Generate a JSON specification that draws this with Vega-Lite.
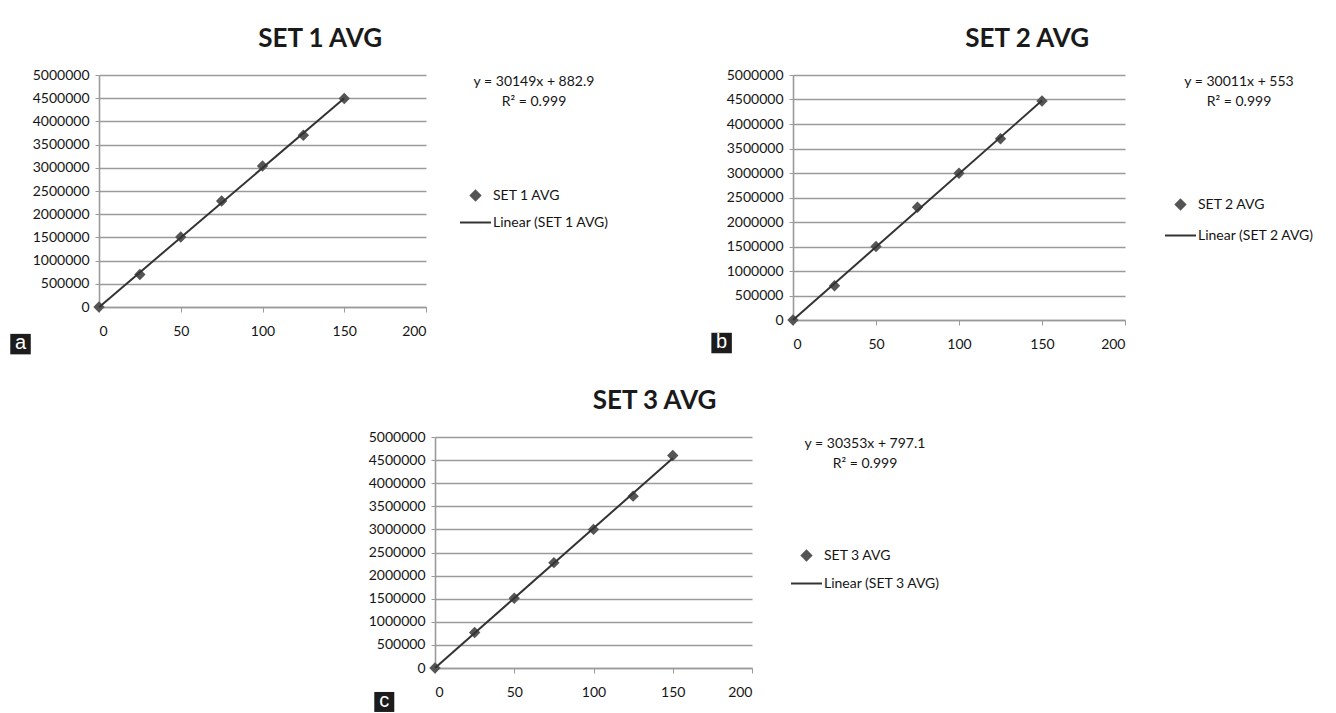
{
  "$schema": "https://vega.github.io/schema/vega-lite/v6.json",
  "background": "white",
  "padding": {"left": 10, "top": 26, "right": 0, "bottom": 0},
  "config": {
    "font": "Lato",
    "view": {"stroke": null},
    "title": {"fontSize": 26, "fontWeight": "bold", "color": "#1a1a1a", "frame": "bounds", "anchor": "middle", "offset": 16},
    "axis": {"labelFont": "Lato", "labelFontSize": 14, "labelColor": "#151515", "domainColor": "#9a9a9a", "tickColor": "#9a9a9a", "gridColor": "#9a9a9a", "gridWidth": 1.6, "domainWidth": 1.6, "title": null, "labelOverlap": false},
    "legend": {"labelFont": "Lato", "labelFontSize": 14, "labelColor": "#151515", "titleFont": "Lato", "titleFontSize": 14, "titleFontWeight": "normal", "titleColor": "#151515", "titleAlign": "center", "titleAnchor": "middle", "titleLineHeight": 20, "symbolSize": 784, "rowPadding": 1, "labelOffset": 1, "orient": "right"}
  },
  "resolve": {"scale": {"color": "independent"}, "legend": {"color": "independent"}},
  "spacing": 33,
  "vconcat": [
    {
      "resolve": {"scale": {"color": "independent"}, "legend": {"color": "independent"}},
      "spacing": 101,
      "hconcat": [
        {
          "title": {"text": "SET 1 AVG", "dx": 10},
          "width": 327,
          "height": 232,
          "data": {"values": [
            {"x": 0, "y": 0, "series": "SET 1 AVG", "trend": "Linear (SET 1 AVG)"},
            {"x": 25, "y": 700000, "series": "SET 1 AVG", "trend": "Linear (SET 1 AVG)"},
            {"x": 50, "y": 1510000, "series": "SET 1 AVG", "trend": "Linear (SET 1 AVG)"},
            {"x": 75, "y": 2285000, "series": "SET 1 AVG", "trend": "Linear (SET 1 AVG)"},
            {"x": 100, "y": 3040000, "series": "SET 1 AVG", "trend": "Linear (SET 1 AVG)"},
            {"x": 125, "y": 3700000, "series": "SET 1 AVG", "trend": "Linear (SET 1 AVG)"},
            {"x": 150, "y": 4495000, "series": "SET 1 AVG", "trend": "Linear (SET 1 AVG)"}
          ]},
          "layer": [
            {
              "mark": {"type": "point", "shape": "diamond", "filled": true, "size": 130, "opacity": 1},
              "encoding": {
                "x": {"field": "x", "type": "quantitative", "scale": {"domain": [0, 200], "nice": false}, "axis": {"values": [0, 50, 100, 150, 200], "format": "d", "grid": false, "tickSize": 5, "labelPadding": 12}},
                "y": {"field": "y", "type": "quantitative", "scale": {"domain": [0, 5000000], "nice": false}, "axis": {"values": [0, 500000, 1000000, 1500000, 2000000, 2500000, 3000000, 3500000, 4000000, 4500000, 5000000], "format": "d", "grid": true, "tickSize": 4, "labelPadding": 6}},
                "color": {"field": "series", "type": "nominal", "scale": {"domain": ["SET 1 AVG", "Linear (SET 1 AVG)"], "range": ["#555555", "#333333"]},
                "legend": {"title": ["y = 30149x + 882.9", "R² = 0.999"], "offset": 33, "titlePadding": 70,
                  "encode": {"symbols": {"update": {
                    "shape": {"signal": "datum.value === 'SET 1 AVG' ? 'diamond' : 'stroke'"},
                    "size": {"signal": "datum.value === 'SET 1 AVG' ? 90 : 961"},
                    "fill": {"signal": "datum.value === 'SET 1 AVG' ? '#555555' : 'transparent'"},
                    "stroke": {"signal": "datum.value === 'SET 1 AVG' ? 'transparent' : '#444444'"},
                    "strokeWidth": {"value": 2}}}}}}}
            },
            {
              "transform": [{"regression": "y", "on": "x", "groupby": ["trend"]}],
              "mark": {"type": "line", "strokeWidth": 2},
              "encoding": {
                "x": {"field": "x", "type": "quantitative", "scale": {"domain": [0, 200], "nice": false}, "axis": {"values": [0, 50, 100, 150, 200], "format": "d", "grid": false, "tickSize": 5, "labelPadding": 12}},
                "y": {"field": "y", "type": "quantitative", "scale": {"domain": [0, 5000000], "nice": false}, "axis": {"values": [0, 500000, 1000000, 1500000, 2000000, 2500000, 3000000, 3500000, 4000000, 4500000, 5000000], "format": "d", "grid": true, "tickSize": 4, "labelPadding": 6}},
                "color": {"field": "trend", "type": "nominal", "scale": {"domain": ["SET 1 AVG", "Linear (SET 1 AVG)"], "range": ["#555555", "#333333"]},
                "legend": {"title": ["y = 30149x + 882.9", "R² = 0.999"], "offset": 33, "titlePadding": 70,
                  "encode": {"symbols": {"update": {
                    "shape": {"signal": "datum.value === 'SET 1 AVG' ? 'diamond' : 'stroke'"},
                    "size": {"signal": "datum.value === 'SET 1 AVG' ? 90 : 961"},
                    "fill": {"signal": "datum.value === 'SET 1 AVG' ? '#555555' : 'transparent'"},
                    "stroke": {"signal": "datum.value === 'SET 1 AVG' ? 'transparent' : '#444444'"},
                    "strokeWidth": {"value": 2}}}}}}}
            },
            {
              "data": {"values": [{"lbl": "a"}]},
              "mark": {"type": "square", "size": 420, "color": "#1c1c1c", "opacity": 1},
              "encoding": {
                "x": {"datum": -48, "type": "quantitative", "scale": {"domain": [0, 200], "nice": false}, "axis": {"values": [0, 50, 100, 150, 200], "format": "d", "grid": false, "tickSize": 5, "labelPadding": 12}},
                "y": {"datum": -800000, "type": "quantitative", "scale": {"domain": [0, 5000000], "nice": false}, "axis": {"values": [0, 500000, 1000000, 1500000, 2000000, 2500000, 3000000, 3500000, 4000000, 4500000, 5000000], "format": "d", "grid": true, "tickSize": 4, "labelPadding": 6}}
              }
            },
            {
              "data": {"values": [{"lbl": "a"}]},
              "mark": {"type": "text", "color": "white", "font": "Liberation Sans", "fontSize": 20, "baseline": "middle", "align": "center", "dy": -1},
              "encoding": {
                "x": {"datum": -48, "type": "quantitative", "scale": {"domain": [0, 200], "nice": false}, "axis": {"values": [0, 50, 100, 150, 200], "format": "d", "grid": false, "tickSize": 5, "labelPadding": 12}},
                "y": {"datum": -800000, "type": "quantitative", "scale": {"domain": [0, 5000000], "nice": false}, "axis": {"values": [0, 500000, 1000000, 1500000, 2000000, 2500000, 3000000, 3500000, 4000000, 4500000, 5000000], "format": "d", "grid": true, "tickSize": 4, "labelPadding": 6}},
                "text": {"field": "lbl"}
              }
            }
          ]
        },
        {
          "title": {"text": "SET 2 AVG", "dx": 14},
          "width": 332,
          "height": 245,
          "data": {"values": [
            {"x": 0, "y": 0, "series": "SET 2 AVG", "trend": "Linear (SET 2 AVG)"},
            {"x": 25, "y": 700000, "series": "SET 2 AVG", "trend": "Linear (SET 2 AVG)"},
            {"x": 50, "y": 1500000, "series": "SET 2 AVG", "trend": "Linear (SET 2 AVG)"},
            {"x": 75, "y": 2300000, "series": "SET 2 AVG", "trend": "Linear (SET 2 AVG)"},
            {"x": 100, "y": 2995000, "series": "SET 2 AVG", "trend": "Linear (SET 2 AVG)"},
            {"x": 125, "y": 3700000, "series": "SET 2 AVG", "trend": "Linear (SET 2 AVG)"},
            {"x": 150, "y": 4470000, "series": "SET 2 AVG", "trend": "Linear (SET 2 AVG)"}
          ]},
          "layer": [
            {
              "mark": {"type": "point", "shape": "diamond", "filled": true, "size": 130, "opacity": 1},
              "encoding": {
                "x": {"field": "x", "type": "quantitative", "scale": {"domain": [0, 200], "nice": false}, "axis": {"values": [0, 50, 100, 150, 200], "format": "d", "grid": false, "tickSize": 5, "labelPadding": 12}},
                "y": {"field": "y", "type": "quantitative", "scale": {"domain": [0, 5000000], "nice": false}, "axis": {"values": [0, 500000, 1000000, 1500000, 2000000, 2500000, 3000000, 3500000, 4000000, 4500000, 5000000], "format": "d", "grid": true, "tickSize": 4, "labelPadding": 6}},
                "color": {"field": "series", "type": "nominal", "scale": {"domain": ["SET 2 AVG", "Linear (SET 2 AVG)"], "range": ["#555555", "#333333"]},
                "legend": {"title": ["y = 30011x + 553", "R² = 0.999"], "offset": 39, "titlePadding": 79, "rowPadding": 5,
                  "encode": {"symbols": {"update": {
                    "shape": {"signal": "datum.value === 'SET 2 AVG' ? 'diamond' : 'stroke'"},
                    "size": {"signal": "datum.value === 'SET 2 AVG' ? 90 : 961"},
                    "fill": {"signal": "datum.value === 'SET 2 AVG' ? '#555555' : 'transparent'"},
                    "stroke": {"signal": "datum.value === 'SET 2 AVG' ? 'transparent' : '#444444'"},
                    "strokeWidth": {"value": 2}}}}}}}
            },
            {
              "transform": [{"regression": "y", "on": "x", "groupby": ["trend"]}],
              "mark": {"type": "line", "strokeWidth": 2},
              "encoding": {
                "x": {"field": "x", "type": "quantitative", "scale": {"domain": [0, 200], "nice": false}, "axis": {"values": [0, 50, 100, 150, 200], "format": "d", "grid": false, "tickSize": 5, "labelPadding": 12}},
                "y": {"field": "y", "type": "quantitative", "scale": {"domain": [0, 5000000], "nice": false}, "axis": {"values": [0, 500000, 1000000, 1500000, 2000000, 2500000, 3000000, 3500000, 4000000, 4500000, 5000000], "format": "d", "grid": true, "tickSize": 4, "labelPadding": 6}},
                "color": {"field": "trend", "type": "nominal", "scale": {"domain": ["SET 2 AVG", "Linear (SET 2 AVG)"], "range": ["#555555", "#333333"]},
                "legend": {"title": ["y = 30011x + 553", "R² = 0.999"], "offset": 39, "titlePadding": 79, "rowPadding": 5,
                  "encode": {"symbols": {"update": {
                    "shape": {"signal": "datum.value === 'SET 2 AVG' ? 'diamond' : 'stroke'"},
                    "size": {"signal": "datum.value === 'SET 2 AVG' ? 90 : 961"},
                    "fill": {"signal": "datum.value === 'SET 2 AVG' ? '#555555' : 'transparent'"},
                    "stroke": {"signal": "datum.value === 'SET 2 AVG' ? 'transparent' : '#444444'"},
                    "strokeWidth": {"value": 2}}}}}}}
            },
            {
              "data": {"values": [{"lbl": "b"}]},
              "mark": {"type": "square", "size": 420, "color": "#1c1c1c", "opacity": 1},
              "encoding": {
                "x": {"datum": -43, "type": "quantitative", "scale": {"domain": [0, 200], "nice": false}, "axis": {"values": [0, 50, 100, 150, 200], "format": "d", "grid": false, "tickSize": 5, "labelPadding": 12}},
                "y": {"datum": -470000, "type": "quantitative", "scale": {"domain": [0, 5000000], "nice": false}, "axis": {"values": [0, 500000, 1000000, 1500000, 2000000, 2500000, 3000000, 3500000, 4000000, 4500000, 5000000], "format": "d", "grid": true, "tickSize": 4, "labelPadding": 6}}
              }
            },
            {
              "data": {"values": [{"lbl": "b"}]},
              "mark": {"type": "text", "color": "white", "font": "Liberation Sans", "fontSize": 20, "baseline": "middle", "align": "center", "dy": -1},
              "encoding": {
                "x": {"datum": -43, "type": "quantitative", "scale": {"domain": [0, 200], "nice": false}, "axis": {"values": [0, 50, 100, 150, 200], "format": "d", "grid": false, "tickSize": 5, "labelPadding": 12}},
                "y": {"datum": -470000, "type": "quantitative", "scale": {"domain": [0, 5000000], "nice": false}, "axis": {"values": [0, 500000, 1000000, 1500000, 2000000, 2500000, 3000000, 3500000, 4000000, 4500000, 5000000], "format": "d", "grid": true, "tickSize": 4, "labelPadding": 6}},
                "text": {"field": "lbl"}
              }
            }
          ]
        }
      ]
    },
    {
      "resolve": {"scale": {"color": "independent"}, "legend": {"color": "independent"}},
      "spacing": 0,
      "hconcat": [
        {
          "width": 269,
          "height": 10,
          "data": {"values": []},
          "mark": {"type": "point", "opacity": 0}
        },
        {
          "title": "SET 3 AVG",
          "width": 317,
          "height": 231,
          "data": {"values": [
            {"x": 0, "y": 0, "series": "SET 3 AVG", "trend": "Linear (SET 3 AVG)"},
            {"x": 25, "y": 770000, "series": "SET 3 AVG", "trend": "Linear (SET 3 AVG)"},
            {"x": 50, "y": 1510000, "series": "SET 3 AVG", "trend": "Linear (SET 3 AVG)"},
            {"x": 75, "y": 2280000, "series": "SET 3 AVG", "trend": "Linear (SET 3 AVG)"},
            {"x": 100, "y": 3000000, "series": "SET 3 AVG", "trend": "Linear (SET 3 AVG)"},
            {"x": 125, "y": 3720000, "series": "SET 3 AVG", "trend": "Linear (SET 3 AVG)"},
            {"x": 150, "y": 4600000, "series": "SET 3 AVG", "trend": "Linear (SET 3 AVG)"}
          ]},
          "layer": [
            {
              "mark": {"type": "point", "shape": "diamond", "filled": true, "size": 130, "opacity": 1},
              "encoding": {
                "x": {"field": "x", "type": "quantitative", "scale": {"domain": [0, 200], "nice": false}, "axis": {"values": [0, 50, 100, 150, 200], "format": "d", "grid": false, "tickSize": 5, "labelPadding": 12}},
                "y": {"field": "y", "type": "quantitative", "scale": {"domain": [0, 5000000], "nice": false}, "axis": {"values": [0, 500000, 1000000, 1500000, 2000000, 2500000, 3000000, 3500000, 4000000, 4500000, 5000000], "format": "d", "grid": true, "tickSize": 4, "labelPadding": 6}},
                "color": {"field": "series", "type": "nominal", "scale": {"domain": ["SET 3 AVG", "Linear (SET 3 AVG)"], "range": ["#555555", "#333333"]},
                "legend": {"title": ["y = 30353x + 797.1", "R² = 0.999"], "offset": 38, "titlePadding": 68, "rowPadding": 2,
                  "encode": {"symbols": {"update": {
                    "shape": {"signal": "datum.value === 'SET 3 AVG' ? 'diamond' : 'stroke'"},
                    "size": {"signal": "datum.value === 'SET 3 AVG' ? 90 : 961"},
                    "fill": {"signal": "datum.value === 'SET 3 AVG' ? '#555555' : 'transparent'"},
                    "stroke": {"signal": "datum.value === 'SET 3 AVG' ? 'transparent' : '#444444'"},
                    "strokeWidth": {"value": 2}}}}}}}
            },
            {
              "transform": [{"regression": "y", "on": "x", "groupby": ["trend"]}],
              "mark": {"type": "line", "strokeWidth": 2},
              "encoding": {
                "x": {"field": "x", "type": "quantitative", "scale": {"domain": [0, 200], "nice": false}, "axis": {"values": [0, 50, 100, 150, 200], "format": "d", "grid": false, "tickSize": 5, "labelPadding": 12}},
                "y": {"field": "y", "type": "quantitative", "scale": {"domain": [0, 5000000], "nice": false}, "axis": {"values": [0, 500000, 1000000, 1500000, 2000000, 2500000, 3000000, 3500000, 4000000, 4500000, 5000000], "format": "d", "grid": true, "tickSize": 4, "labelPadding": 6}},
                "color": {"field": "trend", "type": "nominal", "scale": {"domain": ["SET 3 AVG", "Linear (SET 3 AVG)"], "range": ["#555555", "#333333"]},
                "legend": {"title": ["y = 30353x + 797.1", "R² = 0.999"], "offset": 38, "titlePadding": 68, "rowPadding": 2,
                  "encode": {"symbols": {"update": {
                    "shape": {"signal": "datum.value === 'SET 3 AVG' ? 'diamond' : 'stroke'"},
                    "size": {"signal": "datum.value === 'SET 3 AVG' ? 90 : 961"},
                    "fill": {"signal": "datum.value === 'SET 3 AVG' ? '#555555' : 'transparent'"},
                    "stroke": {"signal": "datum.value === 'SET 3 AVG' ? 'transparent' : '#444444'"},
                    "strokeWidth": {"value": 2}}}}}}}
            },
            {
              "data": {"values": [{"lbl": "c"}]},
              "mark": {"type": "square", "size": 400, "color": "#1c1c1c", "opacity": 1},
              "encoding": {
                "x": {"datum": -32, "type": "quantitative", "scale": {"domain": [0, 200], "nice": false}, "axis": {"values": [0, 50, 100, 150, 200], "format": "d", "grid": false, "tickSize": 5, "labelPadding": 12}},
                "y": {"datum": -735000, "type": "quantitative", "scale": {"domain": [0, 5000000], "nice": false}, "axis": {"values": [0, 500000, 1000000, 1500000, 2000000, 2500000, 3000000, 3500000, 4000000, 4500000, 5000000], "format": "d", "grid": true, "tickSize": 4, "labelPadding": 6}}
              }
            },
            {
              "data": {"values": [{"lbl": "c"}]},
              "mark": {"type": "text", "color": "white", "font": "Liberation Sans", "fontSize": 20, "baseline": "middle", "align": "center", "dy": -1},
              "encoding": {
                "x": {"datum": -32, "type": "quantitative", "scale": {"domain": [0, 200], "nice": false}, "axis": {"values": [0, 50, 100, 150, 200], "format": "d", "grid": false, "tickSize": 5, "labelPadding": 12}},
                "y": {"datum": -735000, "type": "quantitative", "scale": {"domain": [0, 5000000], "nice": false}, "axis": {"values": [0, 500000, 1000000, 1500000, 2000000, 2500000, 3000000, 3500000, 4000000, 4500000, 5000000], "format": "d", "grid": true, "tickSize": 4, "labelPadding": 6}},
                "text": {"field": "lbl"}
              }
            }
          ]
        }
      ]
    }
  ]
}
